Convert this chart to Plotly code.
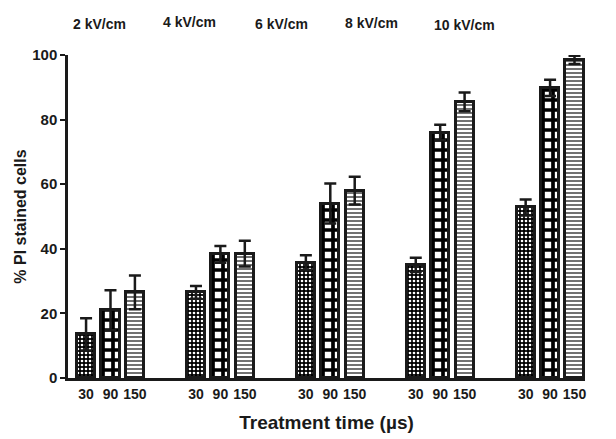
import plotly.graph_objects as go

# Field strengths (group labels) and treatment times (bars within a group)
fields = ["2 kV/cm", "4 kV/cm", "6 kV/cm", "8 kV/cm", "10 kV/cm"]
times = ["30", "90", "150"]
y_ticks = [0, 20, 40, 60, 80, 100]

# % PI stained cells, mean and error per field strength, one list per time
pi_30 = [13.5, 26.5, 35.7, 35.0, 52.8]
pi_90 = [21.0, 38.3, 54.0, 76.0, 89.8]
pi_150 = [26.5, 38.5, 58.0, 85.5, 98.5]
err_30 = [5.0, 2.0, 2.3, 2.2, 2.5]
err_90 = [6.2, 2.6, 6.2, 2.4, 2.5]
err_150 = [5.2, 4.0, 4.3, 2.9, 1.3]

series = [pi_30, pi_90, pi_150]
errors = [err_30, err_90, err_150]

GROUP_STEP = 4.5   # distance between group starts, in bar slots
BAR_W = 0.74

patterns = [
    dict(shape=".", bgcolor="black", fgcolor="white", size=4, solidity=0.35, fillmode="replace"),
    dict(shape="+", bgcolor="white", fgcolor="black", size=10, solidity=0.6, fillmode="replace"),
    dict(shape="-", bgcolor="white", fgcolor="#444444", size=4, solidity=0.38, fillmode="replace"),
]

FONT = "Liberation Sans, Arial, sans-serif"
INK = "#1a1a1a"

fig = go.Figure()
tickvals, ticktext = [], []
for j, (vals, errs) in enumerate(zip(series, errors)):
    xs = [g * GROUP_STEP + j for g in range(len(fields))]
    tickvals += xs
    ticktext += [times[j]] * len(xs)
    fig.add_trace(go.Bar(
        x=xs, y=vals, width=BAR_W,
        marker=dict(color="black" if j == 0 else "white",
                    line=dict(color=INK, width=3),
                    pattern=patterns[j]),
        error_y=dict(type="data", array=errs, color=INK,
                     thickness=2.5, width=6),
        cliponaxis=False,
        name=times[j] + " µs",
    ))

# Field-strength labels along the top
label_x = [0.53, 4.22, 8.0, 11.7, 15.5]
label_y = [1.096, 1.102, 1.096, 1.099, 1.093]
for txt, lx, ly in zip(fields, label_x, label_y):
    fig.add_annotation(x=lx, y=ly, xref="x", yref="paper", text="<b>%s</b>" % txt,
                       showarrow=False, xanchor="center", yanchor="middle",
                       font=dict(family=FONT, size=14, color=INK))

last = (len(fields) - 1) * GROUP_STEP + 2
fig.update_layout(
    width=616, height=439,
    margin=dict(l=68, r=31, t=55, b=61),
    paper_bgcolor="white", plot_bgcolor="white",
    showlegend=False,
    bargap=0,
    font=dict(family=FONT, color=INK),
)
fig.update_xaxes(
    automargin=False,
    range=[-0.74, last + BAR_W / 2 + 0.06],
    tickmode="array", tickvals=tickvals, ticktext=["<b>%s</b>" % t for t in ticktext],
    tickfont=dict(family=FONT, size=14, color=INK),
    ticks="", ticklabelstandoff=1,
    showline=True, linecolor=INK, linewidth=2.5,
    showgrid=False, zeroline=False,
    title=dict(text="<b>Treatment time (µs)</b>",
               font=dict(family=FONT, size=19, color=INK),
               standoff=16),
)
fig.update_yaxes(
    automargin=False,
    range=[0, 100],
    tickmode="array", tickvals=y_ticks, ticktext=["<b>%d</b>" % v for v in y_ticks],
    tickfont=dict(family=FONT, size=15, color=INK),
    ticks="outside", ticklen=5, tickwidth=2, tickcolor=INK,
    showline=True, linecolor=INK, linewidth=2.5,
    showgrid=False, zeroline=False,
    title=dict(text="<b>% PI stained cells</b>",
               font=dict(family=FONT, size=16, color=INK),
               standoff=2),
)

fig.write_html("out.html")
